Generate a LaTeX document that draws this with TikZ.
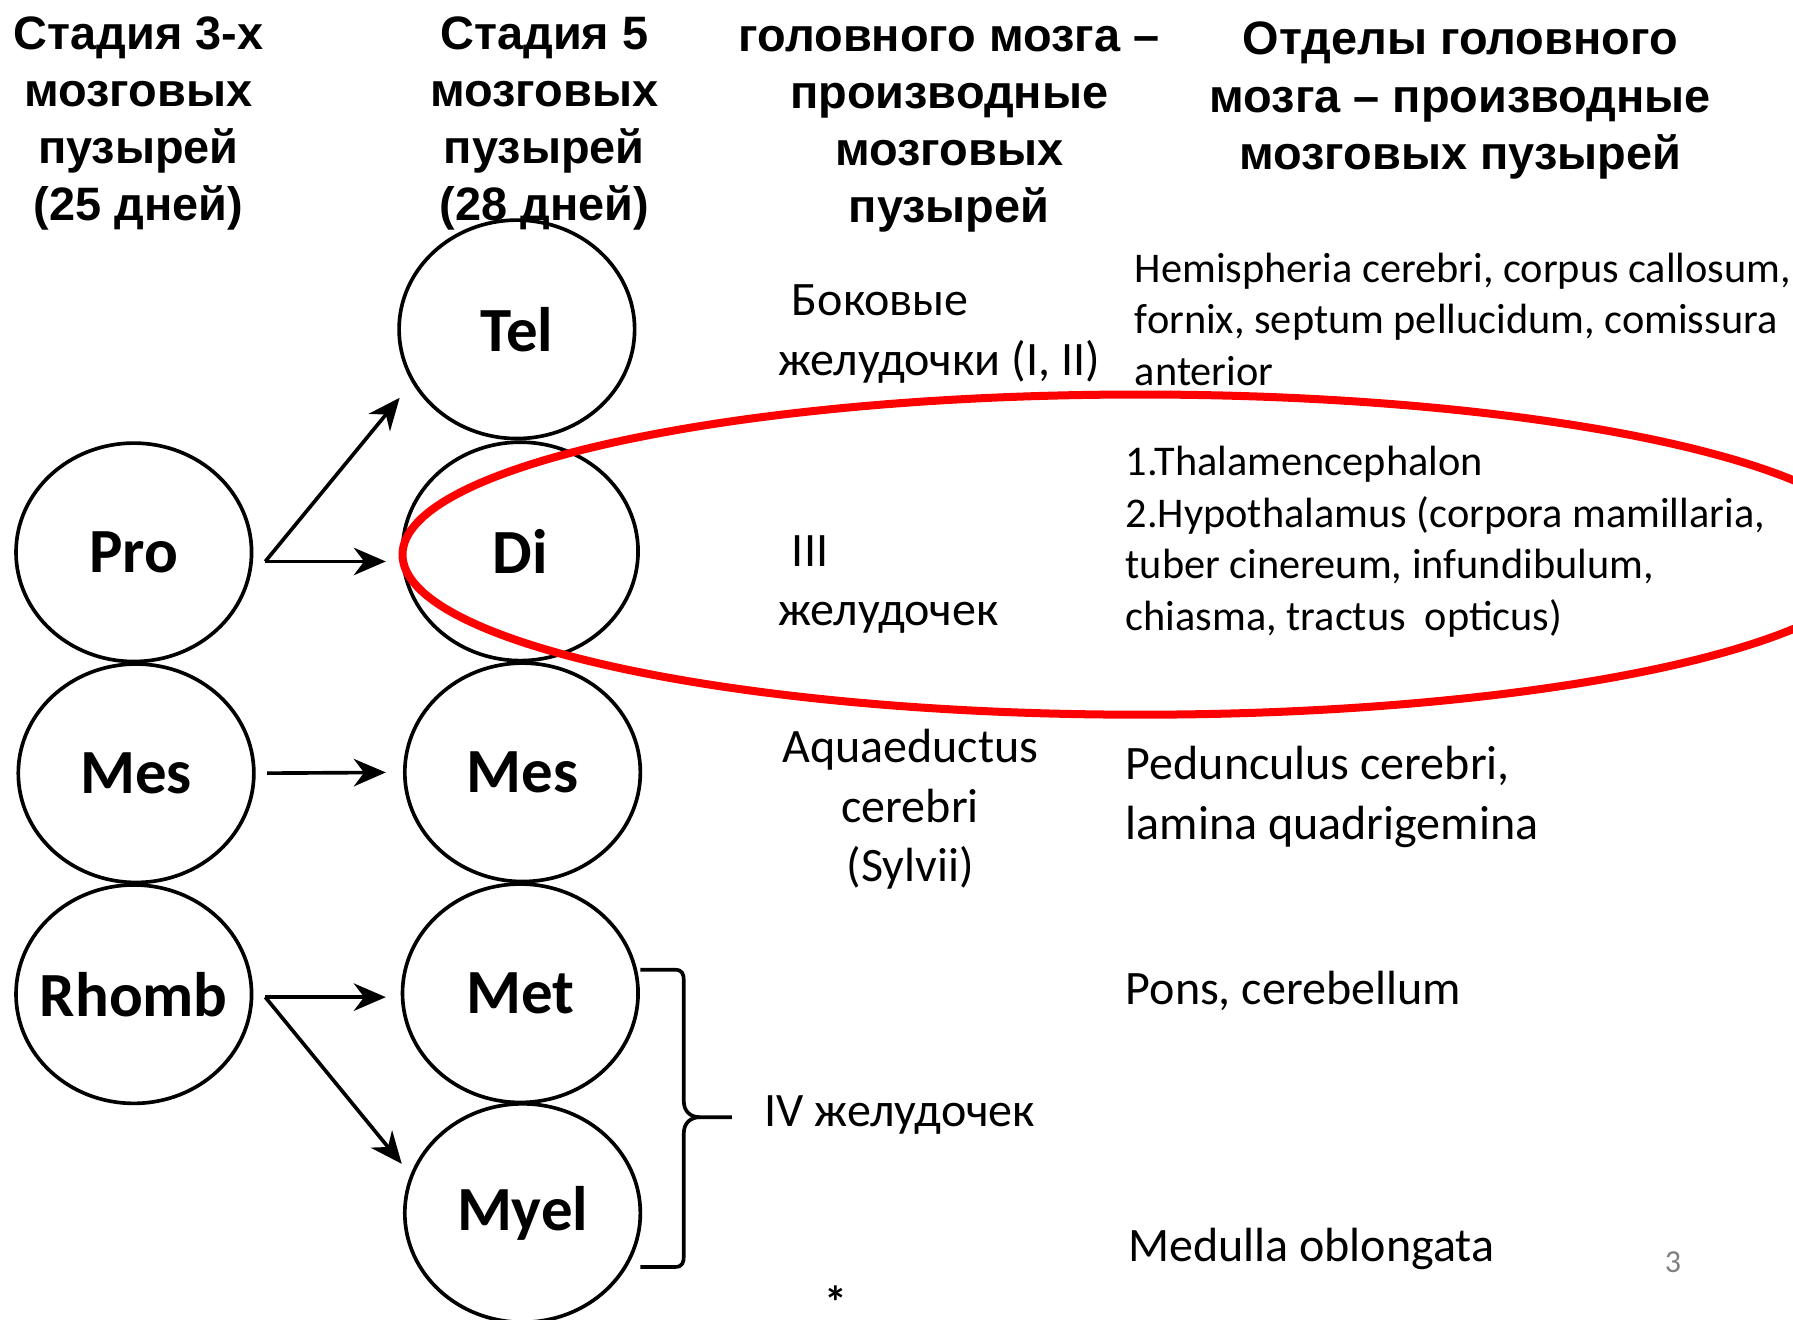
\documentclass[tikz,border=0pt]{standalone}
\usepackage{fontspec}
\setmainfont{Carlito}
\newfontfamily\headfont{Liberation Sans}
\usetikzlibrary{arrows.meta,positioning,shapes.geometric}

\begin{document}
\begin{tikzpicture}[x=1pt, y=-1pt,
  vesicle/.style={draw, ellipse, line width=3.2pt, minimum width=206pt,
    minimum height=191pt, inner sep=-10pt, font=\bfseries\fontsize{55}{60}\selectfont},
  header/.style={align=center, anchor=base, font=\headfont\bfseries\fontsize{41}{50}\selectfont},
  ventricle/.style={align=left, anchor=base west, font=\fontsize{42}{52}\selectfont},
  part/.style={align=left, anchor=base west, font=\fontsize{37}{45}\selectfont},
  develops/.style={-{Stealth[length=28pt, width=24pt, inset=9pt]}, line width=3.2pt}
  ]
  \useasboundingbox (0,0) rectangle (1568,1154);
  % column heads (anchored at the last line)
  \node[header] (head3) at (121,193) {Стадия 3-х\\мозговых\\пузырей\\(25 дней)};
  \node[header] (head5) at (476,193) {Стадия 5\\мозговых\\пузырей\\(28 дней)};
  \node[header] (headV) at (830,195) {головного мозга –\\производные\\мозговых\\пузырей};
  \node[header] (headP) at (1277,148) {Отделы головного\\мозга – производные\\мозговых пузырей};
  % 3 vesicles
  \node[vesicle] (Pro) at (117,483) {Pro};
  \node[vesicle, below=-1pt of Pro, xshift=2pt] (Mes3) {Mes};
  \node[vesicle, below=-1pt of Mes3, xshift=-2pt] (Rhomb) {Rhomb};
  % 5 vesicles
  \node[vesicle] (Tel) at (452,288) {Tel};
  \node[vesicle, below=0pt of Tel, xshift=3pt] (Di) {Di};
  \node[vesicle, below=-1pt of Di, xshift=2pt] (Mes5) {Mes};
  \node[vesicle, below=-1pt of Mes5, xshift=-2pt] (Met) {Met};
  \node[vesicle, below=-2pt of Met, xshift=2pt] (Myel) {Myel};
  % arrows
  \coordinate (split1) at (232,491);
  \coordinate (split2) at (232,872);
  \draw[develops, shorten >=17pt] (split1) -- (Tel.207);
  \draw[develops, shorten >=13pt] (split1) -- (split1 -| Di.west);
  \draw[develops, shorten <=10pt, shorten >=15pt] (Mes3.east) -- (Mes5.west);
  \draw[develops, shorten >=13pt] (split2) -- (split2 -| Met.west);
  \draw[develops, shorten >=12pt] (split2) -- (Myel.161);
  % ventricles
  \node[ventricle] (lat) at (677,328) {\hspace*{12pt}Боковые\\желудочки (I, II)};
  \node[ventricle] (third) at (677,547) {\hspace*{12pt}III\\желудочек};
  \node[ventricle, align=center, anchor=base] (aqua) at (796,771) {Aquaeductus\\cerebri\\(Sylvii)};
  \node[ventricle] (fourth) at (665,985) {IV желудочек};
  \draw[line width=3.2pt] (560,848) -- (590,848) .. controls (597,848) and (598,852) .. (598,858)
    -- (598,963) .. controls (598,972) and (604,977) .. (612,977) -- (640,977);
  \draw[line width=3.2pt] (612,977) .. controls (604,977) and (598,982) .. (598,991)
    -- (598,1098) .. controls (598,1104) and (597,1108) .. (590,1108) -- (560,1108);
  % parts of the brain
  \node[part] (telparts) at (989,337) {Hemispheria cerebri, corpus callosum,\\fornix, septum pellucidum, comissura\\anterior};
  \node[part] (diparts) at (981,551) {1.Thalamencephalon\\2.Hypothalamus (corpora mamillaria,\\tuber cinereum, infundibulum,\\chiasma, tractus\ \ opticus)};
  \node[ventricle, align=left] (mesparts) at (981,734) {Pedunculus cerebri,\\lamina quadrigemina};
  \node[ventricle] (metparts) at (981,878) {Pons, cerebellum};
  \node[ventricle] (myelparts) at (983,1103) {Medulla oblongata};
  \node[text=gray, font=\fontsize{28}{30}\selectfont] (slide) at (1463,1104) {3};
  \node[inner sep=0pt, anchor=base, font=\bfseries\fontsize{40}{42}\selectfont] (star) at (731,1153) {*};
  % highlight of Di
  \node[draw=red, ellipse, line width=7pt, minimum width=1290pt, minimum height=280pt] (ring) at (997,485) {};
\end{tikzpicture}
\end{document}
